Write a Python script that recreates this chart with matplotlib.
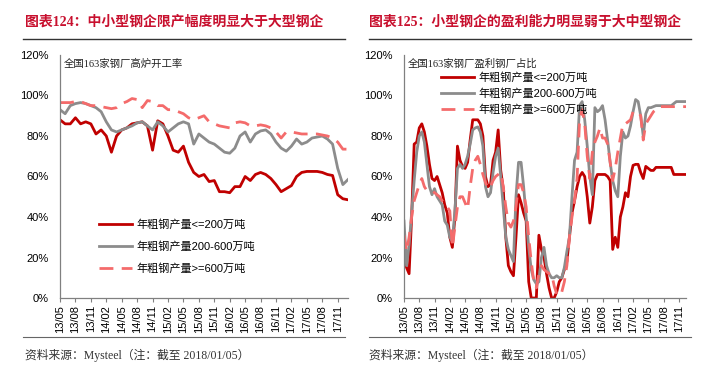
import numpy as np
import matplotlib
matplotlib.use('Agg')
import matplotlib.pyplot as plt
from matplotlib.lines import Line2D

plt.rcParams['font.family'] = ['Liberation Sans', 'Noto Sans CJK SC']

# left panel: monthly readings, 2013/05 .. 2018/01
left_small = [88, 86, 86, 89, 86, 87, 86, 81, 83, 80, 72, 80, 83, 84, 86, 86.5, 87, 85, 73, 87.5,
              86, 80, 73, 72, 75, 67, 62, 60, 61, 57.5, 58, 52.5, 52.5, 52, 55, 55, 60, 58, 61, 62,
              61, 59, 56, 52.5, 54, 55.5, 60, 62, 62.5, 62.5, 62.5, 62, 61, 60.5, 51, 49, 48.5]
left_mid = [93, 91, 95, 96, 96.5, 96, 95, 94, 92, 87, 83, 82, 83, 84, 85, 86.5, 87, 85, 83, 87,
            85, 82, 84, 86, 87, 86, 76, 81, 79, 77, 76, 74, 72, 71.5, 74, 80, 82, 77, 81, 82.5,
            83, 81, 77, 74, 72.5, 75, 78.5, 76, 77, 79, 79.5, 80, 78.5, 76, 64, 56, 58.5]
left_large = [96.5, 96.5, 96.5, 97, 97, 96, 95, 95, 94.5, 94, 93.5, 94, 96, 97, 98.5, 98, 94, 97.5,
              97, 95, 95, 93, 93, 92, 91, 89, 88, 89, 90, 87, 86, 85, 84.5, 84, 86.5, 87, 86.5, 85,
              85, 85.5, 85, 84, 82, 79, 82, 82, 81.5, 81, 81, 81, 81, 80.5, 80, 79, 77, 73.5, 73.5]

# right panel: half-month readings, 2013/05 .. 2017/12
right_small = [20, 15, 12, 40, 76, 77, 84, 86, 82, 75,
               66, 59, 58, 60, 56, 52, 46, 42, 30, 25,
               40, 75, 68, 65, 64, 67, 78, 88, 88, 88,
               86, 80, 60, 55, 56, 68, 72, 83, 63, 54,
               30, 16, 13, 11, 30, 51, 47, 42, 38, 8,
               0, 0, 0, 31, 24, 20, 12, 5, 0, 0,
               3, 8, 10, 14, 18, 30, 42, 48, 55, 60,
               62, 60, 50, 37, 45, 58, 61, 61, 61, 61,
               60, 58, 24, 30, 25, 40, 45, 52, 50, 60,
               65.5, 66, 66, 62, 59, 65, 64, 63, 63, 64.5,
               64.5, 64.5, 64.5, 64.5, 64.5, 64.5, 61, 61, 61, 61,
               61, 61]
right_mid = [38, 16, 26, 42, 58, 72, 80, 82, 77, 66,
             55, 51, 54, 50, 48, 46, 38, 36, 30, 28,
             43, 64, 66, 64, 66, 70, 76, 83, 84, 84.5,
             82, 75, 55, 50, 52, 62, 70, 74, 60, 45,
             30, 24, 21, 18, 50, 67, 67, 55, 40, 25,
             14, 9, 7, 8, 20, 25, 16, 12, 10, 10,
             11, 10, 10, 15, 23, 30, 50, 68, 72, 95,
             97, 88, 75, 60, 51, 94, 92, 93, 95, 88,
             78, 67, 58, 53, 50, 70, 82, 79, 80, 85,
             92, 98, 97, 90, 80, 91, 94, 94, 94.5, 95,
             95, 95, 95, 95, 95, 95, 96, 97, 97, 97,
             97, 97]
right_large = [31, 23, 30, 40, 48, 52, 56, 59, 55, 53,
               53, 53, 52, 51, 50, 48, 47, 45, 43, 25,
               35, 45, 50, 50, 47, 44, 55, 64, 68, 70,
               66, 61, 57, 54, 55, 58, 60, 61, 62, 55,
               45, 37, 35, 38, 45, 56, 56, 52, 45, 30,
               18, 8, 5, 12, 16, 14, 13, 12, 12, 6,
               2, 1, 3, 8, 16, 30, 40, 48, 59, 88,
               93, 86, 70, 59, 72, 77, 80, 84, 79, 79,
               76, 67, 58, 64, 72, 79, 86, 86, 87, 88,
               92, 92, 92, 90, 78, 86, 88, 90, 92, 93,
               94.5, 94.5, 94.5, 94.5, 94.5, 94.5, 94.5, 94.5, 94.5, 94.5,
               94.5, 94.5]

tick_labels = ['13/05', '13/08', '13/11', '14/02', '14/05', '14/08', '14/11', '15/02', '15/05',
               '15/08', '15/11', '16/02', '16/05', '16/08', '16/11', '17/02', '17/05', '17/08',
               '17/11']
series_names = ['年粗钢产量<=200万吨', '年粗钢产量200-600万吨', '年粗钢产量>=600万吨']

RED = '#C00000'
GRAY = '#8C8C8C'
PINK = '#F46B6B'
TITLE_RED = '#C8102E'
SERIF_CJK = ['Liberation Serif', 'Noto Sans CJK SC']


def draw_panel(ax, small, mid, large, step, xmax, note, legend_loc, spacing):
    x = np.arange(len(small)) * step
    ax.plot(x, small, color=RED, lw=2.0)
    ax.plot(x, mid, color=GRAY, lw=2.0)
    ax.plot(x, large, color=PINK, lw=2.0, dashes=(5, 3))
    ax.set_xlim(0, xmax)
    ax.set_ylim(0, 120)
    ax.set_yticks(range(0, 121, 20))
    ax.set_yticklabels(['%d%%' % v for v in range(0, 121, 20)], fontsize=8)
    ax.set_xticks(range(0, 3 * len(tick_labels), 3))
    ax.set_xticklabels(tick_labels, rotation=90, fontsize=8)
    for s in ['top', 'right']:
        ax.spines[s].set_visible(False)
    for s in ['left', 'bottom']:
        ax.spines[s].set_color('#808080')
        ax.spines[s].set_linewidth(0.9)
    ax.tick_params(axis='y', length=0, pad=8)
    ax.tick_params(axis='x', length=3, color='#808080', pad=2)
    ax.text(0.012, 0.985, note, transform=ax.transAxes, fontsize=7.5, va='top',
            family=SERIF_CJK, color='#222222')
    handles = [Line2D([], [], color=RED, lw=2.0),
               Line2D([], [], color=GRAY, lw=2.0),
               Line2D([], [], color=PINK, lw=2.0, dashes=(5, 3))]
    ax.legend(handles, series_names, loc='upper left', bbox_to_anchor=legend_loc,
              frameon=False, fontsize=8, handlelength=3.0, handletextpad=0.4,
              labelspacing=spacing, borderaxespad=0, borderpad=0)


fig = plt.figure(figsize=(7.08, 3.76), dpi=100)
ax1 = fig.add_axes([60 / 708, 1 - 298 / 376, 288 / 708, 243 / 376])
ax2 = fig.add_axes([404 / 708, 1 - 298 / 376, 282 / 708, 243 / 376])

draw_panel(ax1, left_small, left_mid, left_large, 1, 56, '全国163家钢厂高炉开工率',
           (0.135, 0.325), 1.05)
draw_panel(ax2, right_small, right_mid, right_large, 0.5, 55.4, '全国163家钢厂盈利钢厂占比',
           (0.13, 0.93), 0.5)

fig.text(25 / 708, 1 - 22 / 376, '图表124：中小型钢企限产幅度明显大于大型钢企', color=TITLE_RED,
         fontsize=10, fontweight='bold', family=SERIF_CJK, va='center')
fig.text(369 / 708, 1 - 22 / 376, '图表125：小型钢企的盈利能力明显弱于大中型钢企', color=TITLE_RED,
         fontsize=10, fontweight='bold', family=SERIF_CJK, va='center')

for x0, x1 in [(23, 345), (369, 691)]:
    fig.add_artist(Line2D([x0 / 708, x1 / 708], [1 - 39 / 376, 1 - 39 / 376], color='#333333', lw=1.0))
    fig.add_artist(Line2D([x0 / 708, x1 / 708], [1 - 337 / 376, 1 - 337 / 376], color='#666666', lw=0.8))

for x0 in [25, 369]:
    fig.text(x0 / 708, 1 - 355 / 376, '资料来源：Mysteel（注：截至 2018/01/05）', fontsize=8.5,
             family=SERIF_CJK, color='#333333', va='center')

fig.savefig('out.png', dpi=100)
